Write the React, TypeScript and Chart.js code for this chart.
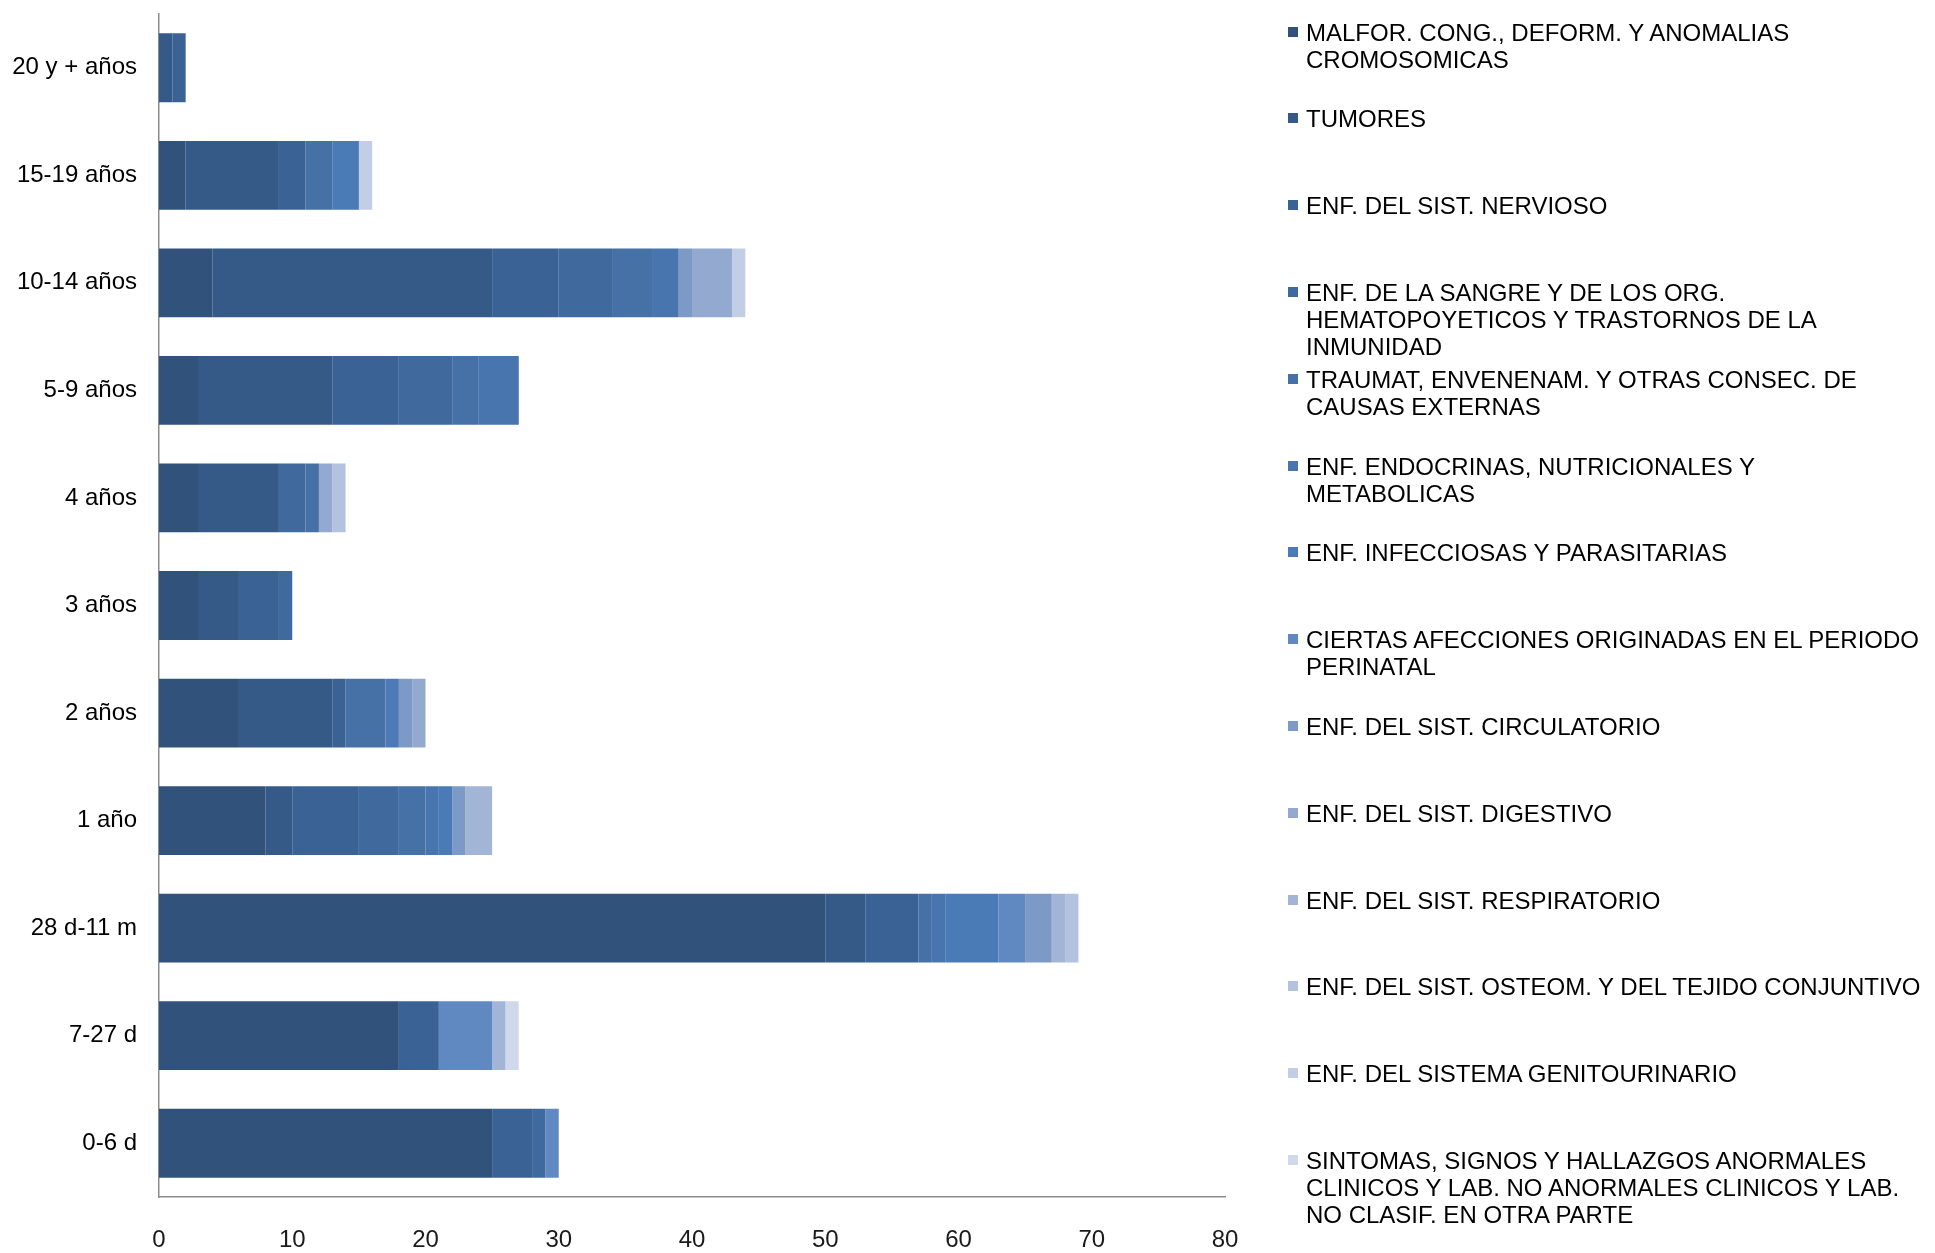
import React, { useEffect, useRef } from "react";
import { Chart, registerables } from "chart.js";

Chart.register(...registerables);

const CATEGORIES = [
  "20 y + años",
  "15-19 años",
  "10-14 años",
  "5-9 años",
  "4 años",
  "3 años",
  "2 años",
  "1 año",
  "28 d-11 m",
  "7-27 d",
  "0-6 d",
];

const SERIES_NAMES = [
  "MALFOR. CONG., DEFORM. Y ANOMALIAS\nCROMOSOMICAS",
  "TUMORES",
  "ENF. DEL SIST. NERVIOSO",
  "ENF. DE LA SANGRE Y DE LOS ORG.\nHEMATOPOYETICOS Y TRASTORNOS DE LA\nINMUNIDAD",
  "TRAUMAT, ENVENENAM. Y OTRAS CONSEC. DE\nCAUSAS EXTERNAS",
  "ENF. ENDOCRINAS, NUTRICIONALES Y\nMETABOLICAS",
  "ENF. INFECCIOSAS Y PARASITARIAS",
  "CIERTAS AFECCIONES ORIGINADAS EN EL PERIODO\nPERINATAL",
  "ENF. DEL SIST. CIRCULATORIO",
  "ENF. DEL SIST. DIGESTIVO",
  "ENF. DEL SIST. RESPIRATORIO",
  "ENF. DEL SIST. OSTEOM. Y DEL TEJIDO CONJUNTIVO",
  "ENF. DEL SISTEMA GENITOURINARIO",
  "SINTOMAS, SIGNOS Y HALLAZGOS ANORMALES\nCLINICOS Y LAB. NO ANORMALES CLINICOS Y LAB.\nNO CLASIF. EN OTRA PARTE",
];

const SERIES_COLORS = [
  "#31527a",
  "#355a87",
  "#3b6294",
  "#40699e",
  "#4571a6",
  "#4875ad",
  "#4b7bb6",
  "#5f89c0",
  "#7d9ac6",
  "#93a9d0",
  "#a3b5d7",
  "#b3c2df",
  "#c2cee5",
  "#d0d9eb",
];

// values per category, in CATEGORIES order
const MALFOR = [0, 2, 4, 3, 3, 3, 6, 8, 50, 18, 25];
const TUMORES = [1, 7, 21, 10, 6, 3, 7, 2, 3, 0, 0];
const NERVIOSO = [1, 2, 5, 5, 0, 3, 1, 5, 4, 3, 3];
const SANGRE = [0, 0, 4, 4, 2, 1, 0, 3, 0, 0, 1];
const TRAUMAT = [0, 2, 3, 2, 1, 0, 3, 2, 1, 0, 0];
const ENDOCRINAS = [0, 0, 2, 3, 0, 0, 0, 1, 1, 0, 0];
const INFECCIOSAS = [0, 2, 0, 0, 0, 0, 1, 1, 4, 0, 0];
const PERINATAL = [0, 0, 0, 0, 0, 0, 0, 0, 2, 4, 1];
const CIRCULATORIO = [0, 0, 1, 0, 0, 0, 1, 1, 2, 0, 0];
const DIGESTIVO = [0, 0, 3, 0, 1, 0, 1, 0, 0, 0, 0];
const RESPIRATORIO = [0, 0, 0, 0, 0, 0, 0, 2, 1, 1, 0];
const OSTEOM = [0, 0, 0, 0, 1, 0, 0, 0, 1, 0, 0];
const GENITOURINARIO = [0, 1, 1, 0, 0, 0, 0, 0, 0, 0, 0];
const SINTOMAS = [0, 0, 0, 0, 0, 0, 0, 0, 0, 1, 0];

const SERIES_VALUES = [
  MALFOR,
  TUMORES,
  NERVIOSO,
  SANGRE,
  TRAUMAT,
  ENDOCRINAS,
  INFECCIOSAS,
  PERINATAL,
  CIRCULATORIO,
  DIGESTIVO,
  RESPIRATORIO,
  OSTEOM,
  GENITOURINARIO,
  SINTOMAS,
];

const X_MIN = 0;
const X_MAX = 80;
const X_STEP = 10;

const W = 1935;
const H = 1253;

export default function App() {
  const canvasRef = useRef<HTMLCanvasElement | null>(null);

  useEffect(() => {
    document.body.style.margin = "0";
    const canvas = canvasRef.current;
    if (!canvas) return;
    const chart = new Chart(canvas, {
      type: "bar",
      data: {
        labels: CATEGORIES,
        datasets: SERIES_VALUES.map((vals, i) => ({
          label: SERIES_NAMES[i],
          data: vals,
          backgroundColor: SERIES_COLORS[i],
          borderWidth: 0,
          barPercentage: 0.64,
          categoryPercentage: 1,
        })),
      },
      options: {
        indexAxis: "y",
        responsive: false,
        devicePixelRatio: 1,
        animation: false,
        layout: { padding: { top: 14, right: W - 1225, left: 0, bottom: 0 } },
        plugins: {
          legend: { display: false },
          tooltip: { enabled: false },
        },
        scales: {
          x: {
            stacked: true,
            min: X_MIN,
            max: X_MAX,
            grid: { display: false, drawTicks: false },
            border: { display: true, color: "#8c8c8c", width: 1.5 },
            ticks: {
              stepSize: X_STEP,
              padding: 29,
              color: "#1a1a1a",
              font: { family: "'Liberation Sans', Arial, sans-serif", size: 24 },
            },
            afterFit: (s: any) => {
              s.height = 56;
              s.paddingLeft = 0;
              s.paddingRight = 0;
            },
          },
          y: {
            stacked: true,
            grid: { display: false, drawTicks: false },
            border: { display: true, color: "#8c8c8c", width: 1.5 },
            ticks: {
              padding: 22,
              color: "#000",
              font: { family: "'Liberation Sans', Arial, sans-serif", size: 24 },
            },
            afterFit: (s: any) => {
              s.width = 159;
              s.paddingTop = 0;
              s.paddingBottom = 0;
            },
          },
        },
      },
    });
    return () => chart.destroy();
  }, []);

  return (
    <div style={{ position: "relative", width: W, height: H, background: "#fff" }}>
      <canvas
        ref={canvasRef}
        width={W}
        height={H}
        style={{ position: "absolute", left: 0, top: 0, width: W, height: H }}
      />
      {SERIES_NAMES.map((name, i) => (
        <div
          key={i}
          style={{
            position: "absolute",
            left: 1288,
            top: 32 + i * 86.8 - 13.5,
            display: "flex",
            alignItems: "flex-start",
          }}
        >
          <span
            style={{
              display: "block",
              width: 10,
              height: 10,
              background: SERIES_COLORS[i],
              marginTop: 8,
              marginRight: 8,
              flex: "none",
            }}
          />
          <span
            style={{
              whiteSpace: "pre",
              fontFamily: "'Liberation Sans', Arial, sans-serif",
              fontSize: 24,
              lineHeight: "27px",
              color: "#000",
            }}
          >
            {name}
          </span>
        </div>
      ))}
    </div>
  );
}
